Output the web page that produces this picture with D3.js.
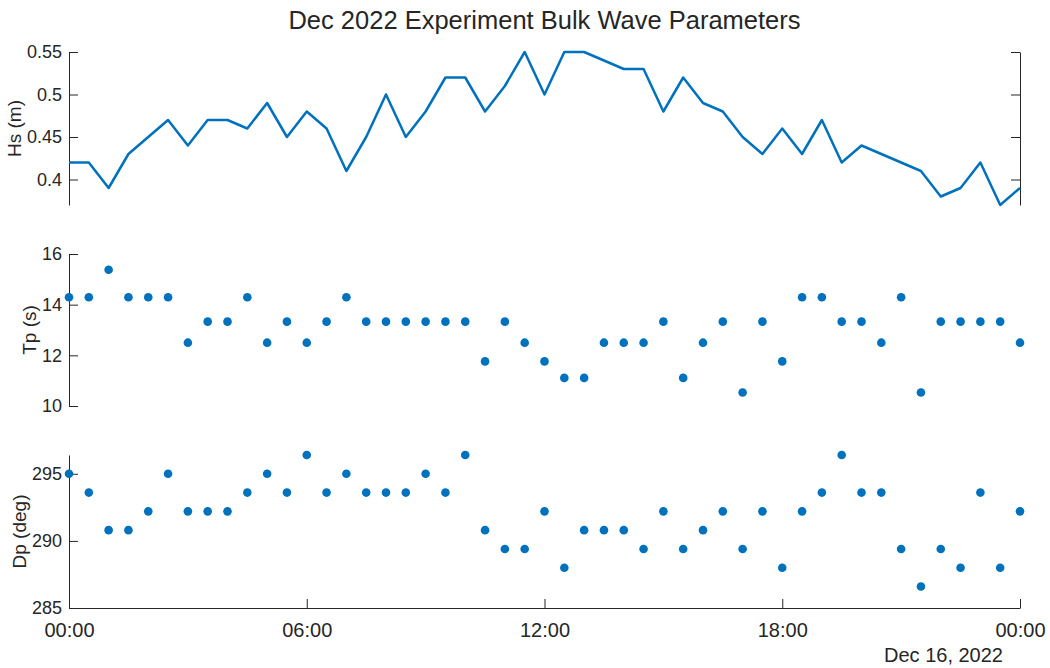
<!DOCTYPE html>
<html>
<head>
<meta charset="utf-8">
<script src="https://cdn.jsdelivr.net/npm/d3@7"></script>
<style>
  body { margin: 0; background: #fff; }
  svg text { font-family: "Liberation Sans", Arial, Helvetica, sans-serif; fill: #262626; }
</style>
</head>
<body>
<svg id="chart" width="1050" height="668"></svg>
<script>
// Dec 15, 2022 00:00 -> Dec 16, 2022 00:00, one sample every 30 min
const startTime = new Date(2022, 11, 15, 0, 0);
const endTime = new Date(2022, 11, 16, 0, 0);

const hsValues = [0.42,0.42,0.39,0.43,0.45,0.47,0.44,0.47,0.47,0.46,
  0.49,0.45,0.48,0.46,0.41,0.45,0.50,0.45,0.48,0.52,
  0.52,0.48,0.51,0.55,0.50,0.55,0.55,0.54,0.53,0.53,
  0.48,0.52,0.49,0.48,0.45,0.43,0.46,0.43,0.47,0.42,
  0.44,0.43,0.42,0.41,0.38,0.39,0.42,0.37,0.39];

const tpValues = [14.29,14.29,15.38,14.29,14.29,14.29,12.5,13.33,13.33,14.29,
  12.5,13.33,12.5,13.33,14.29,13.33,13.33,13.33,13.33,13.33,
  13.33,11.76,13.33,12.5,11.76,11.11,11.11,12.5,12.5,12.5,
  13.33,11.11,12.5,13.33,10.53,13.33,11.76,14.29,14.29,13.33,
  13.33,12.5,14.29,10.53,13.33,13.33,13.33,13.33,12.5];

const dpValues = [295.0,293.6,290.8,290.8,292.2,295.0,292.2,292.2,292.2,293.6,
  295.0,293.6,296.4,293.6,295.0,293.6,293.6,293.6,295.0,293.6,
  296.4,290.8,289.4,289.4,292.2,288.0,290.8,290.8,290.8,289.4,
  292.2,289.4,290.8,292.2,289.4,292.2,288.0,292.2,293.6,296.4,
  293.6,293.6,289.4,286.6,289.4,288.0,293.6,288.0,292.2];

const hsTicks = [0.4, 0.45, 0.5, 0.55];
const tpTicks = [10, 12, 14, 16];
const dpTicks = [285, 290, 295];

const times = d3.timeMinute.every(30).range(startTime, d3.timeMinute.offset(endTime, 1));

const blue = "#0072BD";
const axisColor = "#262626";
const left = 69, right = 1020;
const tickFont = 18, labelFont = 19, xTickFont = 20;

const svg = d3.select("#chart");

const x = d3.scaleTime().domain([startTime, endTime]).range([left, right]);

// panel layout: [top, bottom] in px
const panels = [
  {key: "hs", label: "Hs (m)", vals: hsValues, ticks: hsTicks, domain: [0.37, 0.55], top: 52, bottom: 205, fmt: d => d3.format("")(d)},
  {key: "tp", label: "Tp (s)", vals: tpValues, ticks: tpTicks, domain: [10, 16], top: 254, bottom: 406, fmt: d3.format("d")},
  {key: "dp", label: "Dp (deg)", vals: dpValues, ticks: dpTicks, domain: [285, 296.4], top: 455, bottom: 608, fmt: d3.format("d")}
];

function styleAxis(g) {
  g.selectAll("path").attr("stroke", axisColor).attr("stroke-width", 1);
  g.selectAll("line").attr("stroke", axisColor).attr("stroke-width", 1);
  g.selectAll("text").attr("font-size", tickFont).attr("fill", axisColor)
    .style("font-family", '"Liberation Sans", Arial, Helvetica, sans-serif');
}

panels.forEach((p) => {
  const y = d3.scaleLinear().domain(p.domain).range([p.bottom, p.top]);
  const g = svg.append("g").attr("class", "panel-" + p.key);

  const yAx = g.append("g")
    .attr("transform", "translate(" + left + ",0)")
    .call(d3.axisLeft(y).tickValues(p.ticks).tickFormat(p.fmt)
      .tickSizeInner(-9).tickSizeOuter(0).tickPadding(7));
  styleAxis(yAx);

  if (p.key === "hs") {
    // right side ticks only on the top panel
    const yR = g.append("g")
      .attr("transform", "translate(" + right + ",0)")
      .call(d3.axisRight(y).tickValues(p.ticks).tickFormat("")
        .tickSizeInner(-9).tickSizeOuter(0));
    styleAxis(yR);

    g.append("path")
      .datum(p.vals)
      .attr("fill", "none")
      .attr("stroke", blue)
      .attr("stroke-width", 2.5)
      .attr("stroke-linejoin", "round")
      .attr("d", d3.line()
        .x((d, i) => x(times[i]))
        .y((d) => y(d)));
  } else {
    g.selectAll("circle")
      .data(p.vals)
      .join("circle")
      .attr("cx", (d, i) => x(times[i]))
      .attr("cy", (d) => y(d))
      .attr("r", 4.3)
      .attr("fill", blue);
  }

  // ylabel sits just left of the widest tick label
  let minX = left;
  yAx.selectAll(".tick text").each(function() {
    const b = this.getBBox();
    minX = Math.min(minX, left + b.x);
  });
  g.append("text")
    .attr("transform", "translate(" + (minX - 6) + "," + ((p.top + p.bottom) / 2) + ") rotate(-90)")
    .attr("text-anchor", "middle")
    .attr("font-size", labelFont)
    .text(p.label);

  if (p.key === "dp") {
    const xAx = g.append("g")
      .attr("transform", "translate(0," + p.bottom + ")")
      .call(d3.axisBottom(x).ticks(d3.timeHour.every(6)).tickFormat(d3.timeFormat("%H:%M"))
        .tickSizeInner(-9).tickSizeOuter(0).tickPadding(15));
    styleAxis(xAx);
    xAx.selectAll("text").attr("font-size", xTickFont);
  }
});

// secondary date label under the last tick
svg.append("text")
  .attr("x", 1003)
  .attr("y", 662)
  .attr("text-anchor", "end")
  .attr("font-size", xTickFont)
  .text(d3.timeFormat("%b %d, %Y")(endTime));

svg.append("text")
  .attr("x", (left + right) / 2)
  .attr("y", 29)
  .attr("text-anchor", "middle")
  .attr("font-size", 25.5)
  .text("Dec 2022 Experiment Bulk Wave Parameters");
</script>
</body>
</html>
